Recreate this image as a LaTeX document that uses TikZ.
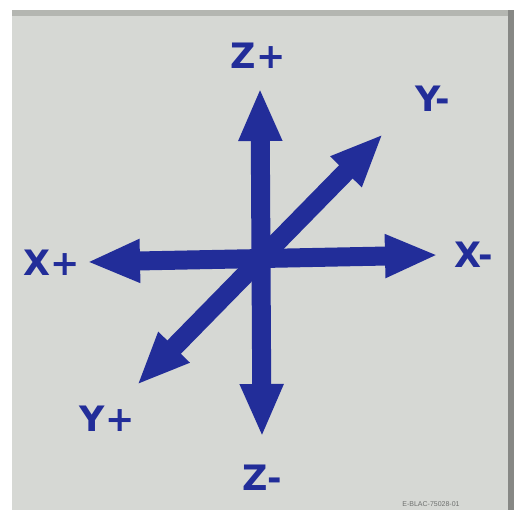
\documentclass[tikz,border=0pt]{standalone}
\usepackage{fontspec}
\setmainfont{DejaVu Sans}
\newfontfamily\smallfont{Liberation Sans}
\usetikzlibrary{arrows.meta}
\definecolor{panel}{HTML}{D6D8D4}
\definecolor{panelshade}{HTML}{B4B6B1}
\definecolor{inkblue}{HTML}{222D99}
\definecolor{codegray}{HTML}{6E706E}
\tikzset{
  axisline/.style={draw=inkblue, line width=19pt,
    {Triangle[width=40pt,length=53pt]}-{Triangle[width=40pt,length=53pt]}},
  axislabel/.style={text=inkblue, font=\fontsize{35}{35}\selectfont\bfseries, inner sep=0pt},
}
\begin{document}
\begin{tikzpicture}[x=1pt,y=-1pt]
\useasboundingbox (0,0) rectangle (514,510);
\fill[white] (0,0) rectangle (514,510);
\fill[panel] (12,10) rectangle (508,510);
\fill[panelshade] (12,10) rectangle (508,16);
\fill[panelshade!75!black] (508,10) rectangle (514,510);
% axis end points
\coordinate (zp) at (260,88);
\coordinate (zm) at (262,437);
\coordinate (xp) at (87,262);
\coordinate (xm) at (438,255);
\coordinate (yp) at (137,385);
\coordinate (ym) at (383,134);
% arrows
\draw[axisline] (yp) -- (ym);
\draw[axisline] (xp) -- (xm);
\draw[axisline] (zp) -- (zm);
% labels
\node[axislabel] (lzp) at (258,56) {Z+};
\node[axislabel] (lym) at (433,99) {Y-};
\node[axislabel] (lxp) at (52,263) {X+};
\node[axislabel] (lxm) at (474,255) {X-};
\node[axislabel] (lzm) at (262,478) {Z-};
\node[axislabel] (lyp) at (107,419) {Y+};
\node[text=codegray, font=\smallfont\fontsize{7}{7}\selectfont, inner sep=0pt] (code) at (431,504) {E-BLAC-75028-01};
\end{tikzpicture}
\end{document}
